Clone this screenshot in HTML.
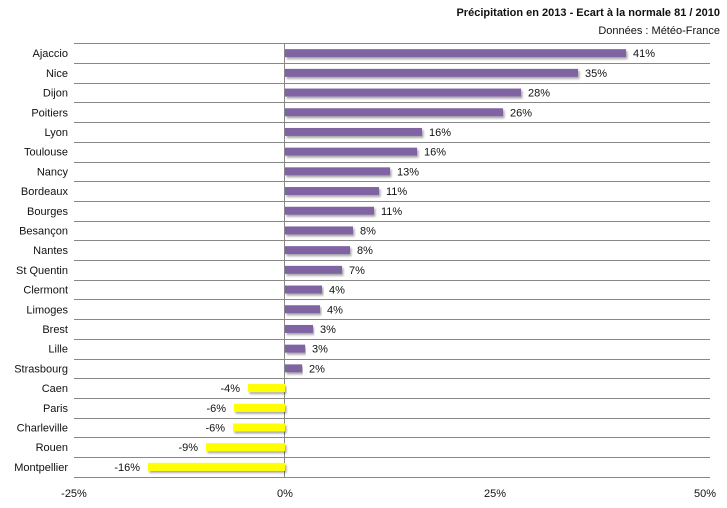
<!DOCTYPE html>
<html><head><meta charset="utf-8"><style>
body{margin:0;background:#fff}
svg text{font-family:"Liberation Sans",sans-serif;font-size:11px;fill:#111}
</style></head><body>
<svg width="727" height="503" xmlns="http://www.w3.org/2000/svg">
<defs><filter id="sh" x="-5%" y="-50%" width="110%" height="200%"><feDropShadow dx="1.5" dy="2" stdDeviation="1" flood-color="#000" flood-opacity="0.35"/></filter></defs>
<text x="720" y="16" text-anchor="end" style="font-weight:bold">Précipitation en 2013 - Ecart à la normale 81 / 2010</text>
<text x="720" y="34" text-anchor="end">Données : Météo-France</text>
<g id="grid" stroke="#888" stroke-width="1"></g>
<line x1="284.5" y1="43" x2="284.5" y2="477" stroke="#888"/>
<g id="bars"></g>
<text x="74" y="497" text-anchor="middle">-25%</text>
<text x="285" y="497" text-anchor="middle">0%</text>
<text x="495" y="497" text-anchor="middle">25%</text>
<text x="705" y="497" text-anchor="middle">50%</text>
</svg>
<script>
(function(){
var d=[["Ajaccio",626,"41%"],["Nice",578,"35%"],["Dijon",521,"28%"],["Poitiers",503,"26%"],["Lyon",422,"16%"],["Toulouse",417,"16%"],["Nancy",390,"13%"],["Bordeaux",379,"11%"],["Bourges",374,"11%"],["Besançon",353,"8%"],["Nantes",350,"8%"],["St Quentin",342,"7%"],["Clermont",322,"4%"],["Limoges",320,"4%"],["Brest",313,"3%"],["Lille",305,"3%"],["Strasbourg",302,"2%"],["Caen",248,"-4%"],["Paris",234,"-6%"],["Charleville",233,"-6%"],["Rouen",206,"-9%"],["Montpellier",148,"-16%"]];
var ns="http://www.w3.org/2000/svg",g=document.getElementById("grid"),b=document.getElementById("bars");
function el(p,t,a,txt){var e=document.createElementNS(ns,t);for(var k in a)e.setAttribute(k,a[k]);if(txt)e.textContent=txt;p.appendChild(e);return e;}
var T0=43.3,h=19.7;
for(var i=0;i<=22;i++){var y=Math.round(T0+i*h)+0.5;el(g,"line",{x1:74,x2:710,y1:y,y2:y});}
d.forEach(function(r,i){var cy=T0+i*h+h/2;var x0=285,x1=r[1];var neg=x1<x0;
el(b,"rect",{x:Math.min(x0,x1),y:cy-4,width:Math.abs(x1-x0),height:8,fill:neg?"#ffff00":"#8064a2",filter:"url(#sh)"});
el(b,"text",{x:68,y:cy+4,"text-anchor":"end"},r[0]);
if(neg)el(b,"text",{x:x1-8,y:cy+4,"text-anchor":"end"},r[2]);else el(b,"text",{x:x1+7,y:cy+4},r[2]);});
})();
</script>
</body></html>
